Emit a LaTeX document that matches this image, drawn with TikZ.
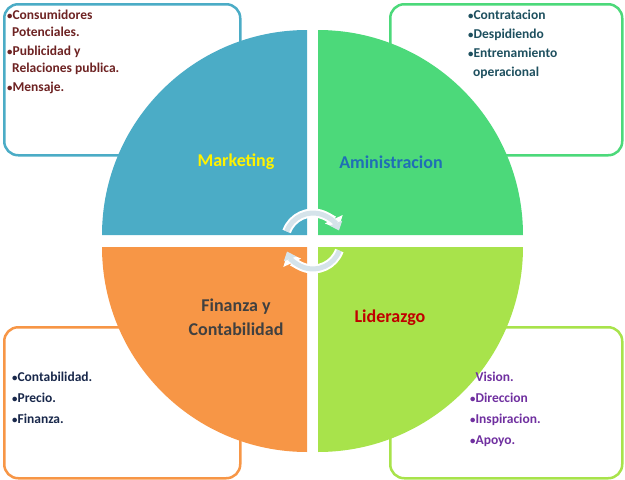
\documentclass[tikz,border=0pt]{standalone}
\usepackage{fontspec}
\setmainfont{Carlito}
\usetikzlibrary{arrows.meta}
\newcommand{\bul}{{\scalebox{0.8}{•}}}
\begin{document}
\begin{tikzpicture}[x=1pt,y=-1pt,
  cbox/.style={draw,line width=2.5pt,rounded corners=14pt,fill=white},
  big/.style={font=\bfseries\fontsize{18}{21}\selectfont,align=center},
  small/.style={font=\bfseries\fontsize{13.5}{16.5}\selectfont,align=left,anchor=north west,inner sep=0pt}]
\definecolor{cmk}{HTML}{4BACC6}
\definecolor{cad}{HTML}{4CD97A}
\definecolor{cfi}{HTML}{F79646}
\definecolor{cli}{HTML}{A8E34B}
\definecolor{car}{HTML}{D5E3EA}
\useasboundingbox (0,0) rectangle (625,480);
% boxes
\node[cbox,draw=cmk,minimum width=236pt,minimum height=151pt,anchor=north west] (b1) at (3,3) {};
\node[cbox,draw=cad,minimum width=232pt,minimum height=151pt,anchor=north west] (b2) at (389,3) {};
\node[cbox,draw=cfi,minimum width=236pt,minimum height=151pt,anchor=north west] (b3) at (3,326) {};
\node[cbox,draw=cli,minimum width=232pt,minimum height=151pt,anchor=north west] (b4) at (389,326) {};
% quarters
\fill[cmk] (307,235) -- (102,235) arc[start angle=180,end angle=90,x radius=205,y radius=-205] -- cycle;
\fill[cad] (318,235) -- (318,30) arc[start angle=90,end angle=0,x radius=205,y radius=-205] -- cycle;
\fill[cfi] (307,247) -- (307,452) arc[start angle=270,end angle=180,x radius=205,y radius=-205] -- cycle;
\fill[cli] (318,247) -- (523,247) arc[start angle=0,end angle=-90,x radius=205,y radius=-205] -- cycle;
% arrows
\coordinate (cc) at (313,241);
\foreach \a/\b in {-160/-25,20/155}{
 \draw[white,line width=9pt,-{Triangle[width=19pt,length=11pt]}] ([shift={(\a:28)}]cc) arc[start angle=\a,end angle=\b,radius=28];
 \draw[car,line width=5pt,-{Triangle[width=13pt,length=8pt]}] ([shift={(\a:28)}]cc) arc[start angle=\a,end angle=\b+3,radius=28];
}
% labels
\node[big,text=yellow] (t1) at (236,162) {Marketing};
\node[big,text={rgb,255:red,31;green,111;blue,181}] (t2) at (391,162) {Aministracion};
\node[big,text=black!75,font=\bfseries\fontsize{18}{24}\selectfont] (t3) at (236,317) {Finanza y\\Contabilidad};
\node[big,text={rgb,255:red,192;green,0;blue,0}] (t4) at (390,318) {Liderazgo};
\node[small,text={rgb,255:red,110;green,35;blue,35}] (s1) at (7,10) {\bul Consumidores\\\hspace*{5pt}Potenciales.\\[3pt]\bul Publicidad y\\\hspace*{5pt}Relaciones publica.\\[3pt]\bul Mensaje.};
\node[small,text={rgb,255:red,30;green,80;blue,95},font=\bfseries\fontsize{13.5}{19}\selectfont] (s2) at (468,10) {\bul Contratacion\\\bul Despidiendo\\\bul Entrenamiento\\\hspace*{5pt}operacional};
\node[small,text={rgb,255:red,25;green,40;blue,75},font=\bfseries\fontsize{13.5}{21}\selectfont] (s3) at (12,372) {\bul Contabilidad.\\\bul Precio.\\\bul Finanza.};
\node[small,text={rgb,255:red,112;green,48;blue,160},font=\bfseries\fontsize{13.5}{21}\selectfont] (s4) at (470,372) {\phantom{\bul}Vision.\\\bul Direccion\\\bul Inspiracion.\\\bul Apoyo.};
\end{tikzpicture}
\end{document}
